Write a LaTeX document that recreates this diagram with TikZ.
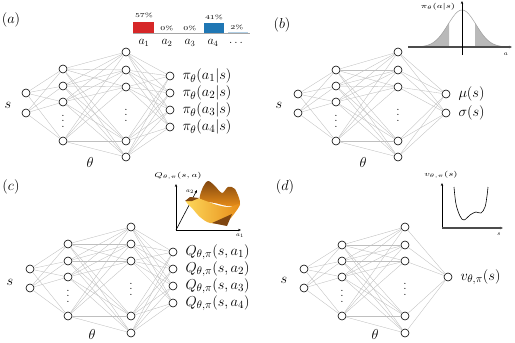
\documentclass[tikz,border=0pt]{standalone}
\usepackage{amsmath}
\usepackage{graphicx}
\usetikzlibrary{arrows.meta,positioning,calc}

\definecolor{barred}{RGB}{214,39,40}
\definecolor{barblue}{RGB}{31,119,180}
\definecolor{surforange}{RGB}{230,140,24}
\definecolor{surfyellow}{RGB}{253,215,90}
\definecolor{surfbrown}{RGB}{128,70,16}

\newcommand{\wide}[1]{\scalebox{1.35}[1]{#1}}
\newcommand{\stackdots}{\vbox{\baselineskip5.5pt\lineskiplimit0pt\hbox{.}\hbox{.}\hbox{.}}}

\begin{document}
\begin{tikzpicture}[x=1pt, y=-1pt,
        neuron/.style={circle, draw=black, line width=0.6pt, fill=white, minimum size=8pt, inner sep=0pt},
        synapse/.style={draw=gray!50, line width=0.35pt},
        biglabel/.style={font=\fontsize{15}{18}\selectfont, inner sep=0pt},
        outlabel/.style={font=\fontsize{15}{18}\selectfont, inner sep=0pt},
        dotslabel/.style={font=\fontsize{12}{14}\selectfont, inner sep=0pt},
        insetlabel/.style={font=\fontsize{7.5}{9}\selectfont, inner sep=0pt},
        axislabel/.style={font=\fontsize{6}{7}\selectfont, inner sep=0pt},
        yaxis/.style={draw=black, line width=0.6pt, -{Stealth[length=3pt, width=2.4pt]}},
        xaxis/.style={draw=gray!60!black, line width=1.1pt, -{Stealth[length=3pt, width=2.6pt]}}
    ]
    \useasboundingbox (0,0) rectangle (515,343);

    % ---------------- (a) policy, discrete actions
    \node[biglabel] (a-tag) at (11,20) {$(a)$};
    \foreach \y [count=\i] in {93,113} \node[neuron] (a-in-\i) at (26,\y) {};
    \foreach \y [count=\i] in {69,86,102,141} \node[neuron] (a-hA-\i) at (63,\y) {};
    \foreach \y [count=\i] in {52,70,87,141,157} \node[neuron] (a-hB-\i) at (126,\y) {};
    \foreach \y [count=\i] in {76,93,110,127} \node[neuron] (a-out-\i) at (170,\y) {};
    \node[dotslabel] (a-dotsA) at (63,121) {\stackdots};
    \node[dotslabel] (a-dotsB) at (126,115) {\stackdots};
    \foreach \i in {1,2} \foreach \j in {1,...,4} \draw[synapse] (a-in-\i) -- (a-hA-\j);
    \foreach \i in {1,...,4} \foreach \j in {1,...,5} \draw[synapse] (a-hA-\i) -- (a-hB-\j);
    \foreach \i in {1,...,5} \foreach \j in {1,...,4} \draw[synapse] (a-hB-\i) -- (a-out-\j);
    \foreach \j in {1,...,4} \node[outlabel, right=8pt of a-out-\j] (a-pi-\j) {$\pi_\theta(a_\j|s)$};
    \node[biglabel] (a-s) at (8,105) {$s$};
    \node[biglabel] (a-theta) at (90,162) {$\theta$};

    % bar chart
    \fill[barred] (133,33) rectangle (154,22);
    \fill[barblue] (204,33) rectangle (224,23);
    \fill[barblue!35] (228,33) rectangle (248,31.8);
    \draw[gray!70, line width=0.8pt] (133,33) -- (250,33);
    \foreach \x/\y/\p in {144/15/57,167/28/0,190/28/0,214/17/41,237/27/2}
        \node[axislabel] at (\x,\y) {\wide{\p\%}};
    \foreach \x/\t in {144/$a_1$,167/$a_2$,190/$a_3$,213/$a_4$,237/$\dots$}
        \node[font=\fontsize{12}{14}\selectfont, inner sep=0pt] at (\x,43) {\t};

    % ---------------- (b) policy, continuous action
    \node[biglabel] (b-tag) at (282,25) {$(b)$};
    \foreach \y [count=\i] in {94,113} \node[neuron] (b-in-\i) at (298,\y) {};
    \foreach \y [count=\i] in {70,86,102,141} \node[neuron] (b-hA-\i) at (336,\y) {};
    \foreach \y [count=\i] in {52,70,87,141,157} \node[neuron] (b-hB-\i) at (398,\y) {};
    \foreach \y [count=\i] in {94,113} \node[neuron] (b-out-\i) at (446,\y) {};
    \node[dotslabel] (b-dotsA) at (336,121) {\stackdots};
    \node[dotslabel] (b-dotsB) at (398,115) {\stackdots};
    \foreach \i in {1,2} \foreach \j in {1,...,4} \draw[synapse] (b-in-\i) -- (b-hA-\j);
    \foreach \i in {1,...,4} \foreach \j in {1,...,5} \draw[synapse] (b-hA-\i) -- (b-hB-\j);
    \foreach \i in {1,...,5} \foreach \j in {1,2} \draw[synapse] (b-hB-\i) -- (b-out-\j);
    \node[outlabel, right=8pt of b-out-1] (b-mu) {$\mu(s)$};
    \node[outlabel, right=8pt of b-out-2] (b-sigma) {$\sigma(s)$};
    \node[biglabel] (b-s) at (279,105) {$s$};
    \node[biglabel] (b-theta) at (363,162) {$\theta$};

    % gaussian inset
    \fill[gray!55] plot[domain=420:449, samples=30] (\x,{47-37*exp(-((\x-462)/14)*((\x-462)/14)/2)}) -- (449,47) -- (420,47) -- cycle;
    \fill[gray!55] plot[domain=475:504, samples=30] (\x,{47-37*exp(-((\x-462)/14)*((\x-462)/14)/2)}) -- (504,47) -- (475,47) -- cycle;
    \draw[gray!75, line width=0.5pt] plot[domain=416:508, samples=70] (\x,{47-37*exp(-((\x-462)/14)*((\x-462)/14)/2)});
    \draw[xaxis] (408,47) -- (512,47);
    \draw[yaxis] (462,55) -- (462,1);
    \node[insetlabel] (b-pilabel) at (438,7) {\wide{$\pi_\theta(a|s)$}};
    \node[axislabel] (b-alabel) at (506,54) {$a$};

    % ---------------- (c) action value
    \node[biglabel] (c-tag) at (11,187) {$(c)$};
    \foreach \y [count=\i] in {269,288} \node[neuron] (c-in-\i) at (30,\y) {};
    \foreach \y [count=\i] in {244,261,277,316} \node[neuron] (c-hA-\i) at (68,\y) {};
    \foreach \y [count=\i] in {227,244,261,316,333} \node[neuron] (c-hB-\i) at (131,\y) {};
    \foreach \y [count=\i] in {252,269,286,303} \node[neuron] (c-out-\i) at (173,\y) {};
    \node[dotslabel] (c-dotsA) at (68,296) {\stackdots};
    \node[dotslabel] (c-dotsB) at (131,289) {\stackdots};
    \foreach \i in {1,2} \foreach \j in {1,...,4} \draw[synapse] (c-in-\i) -- (c-hA-\j);
    \foreach \i in {1,...,4} \foreach \j in {1,...,5} \draw[synapse] (c-hA-\i) -- (c-hB-\j);
    \foreach \i in {1,...,5} \foreach \j in {1,...,4} \draw[synapse] (c-hB-\i) -- (c-out-\j);
    \foreach \j in {1,...,4} \node[outlabel, right=8pt of c-out-\j] (c-q-\j) {$Q_{\theta,\pi}(s,a_\j)$};
    \node[biglabel] (c-s) at (10,282) {$s$};
    \node[biglabel] (c-theta) at (92,334) {$\theta$};

    % surface inset
    \coordinate (c-orig) at (176,230);
    \draw[yaxis] (c-orig) -- (176,184);
    \draw[yaxis] (c-orig) -- (241,230);
    \draw[yaxis] (c-orig) -- (197,190);
    \shade[top color=surfbrown, bottom color=surforange] plot[smooth cycle, tension=0.5] coordinates
        {(200,200) (203,187) (208,181) (214,185) (222,193) (228,187) (235,189) (240,204) (228,206) (215,203)};
    \shade[left color=surfyellow, right color=surforange] plot[smooth cycle, tension=0.5] coordinates
        {(186,201) (196,198) (206,201) (217,205) (229,207) (240,204) (234,214) (226,222) (210,223) (200,217) (192,208)};
    \fill[surfbrown] (212,223) -- (227,226) -- (232,214) -- cycle;
    \fill[surfbrown] (185,201) -- (190,197) -- (199,198) -- (192,201) -- cycle;
    \node[insetlabel] (c-qlabel) at (178,176) {\wide{$Q_{\theta,\pi}(s,a)$}};
    \node[axislabel] (c-a1label) at (240,236) {$a_1$};
    \node[axislabel] (c-a2label) at (190,192) {$a_2$};

    % ---------------- (d) state value
    \node[biglabel] (d-tag) at (285,187) {$(d)$};
    \foreach \y [count=\i] in {269,288} \node[neuron] (d-in-\i) at (304,\y) {};
    \foreach \y [count=\i] in {245,261,277,316} \node[neuron] (d-hA-\i) at (342,\y) {};
    \foreach \y [count=\i] in {227,245,261,316,333} \node[neuron] (d-hB-\i) at (405,\y) {};
    \node[neuron] (d-out) at (448,277) {};
    \node[dotslabel] (d-dotsA) at (342,296) {\stackdots};
    \node[dotslabel] (d-dotsB) at (405,289) {\stackdots};
    \foreach \i in {1,2} \foreach \j in {1,...,4} \draw[synapse] (d-in-\i) -- (d-hA-\j);
    \foreach \i in {1,...,4} \foreach \j in {1,...,5} \draw[synapse] (d-hA-\i) -- (d-hB-\j);
    \foreach \i in {1,...,5} \draw[synapse] (d-hB-\i) -- (d-out);
    \node[outlabel, right=8pt of d-out] (d-v) {$v_{\theta,\pi}(s)$};
    \node[biglabel] (d-s) at (284,280) {$s$};
    \node[biglabel] (d-theta) at (375,334) {$\theta$};

    % value curve inset
    \draw[yaxis] (442,228) -- (442,183);
    \draw[xaxis] (442,228) -- (503,228);
    \draw[black, line width=0.6pt] plot[smooth, tension=0.6] coordinates
        {(454,187) (456,204) (460,216) (464,220) (470,215) (476,212) (481,213) (485,207) (487,196) (488,187)};
    \node[insetlabel] (d-vlabel) at (441,175) {\wide{$v_{\theta,\pi}(s)$}};
    \node[axislabel] (d-slabel) at (499,234) {$s$};

\end{tikzpicture}
\end{document}
